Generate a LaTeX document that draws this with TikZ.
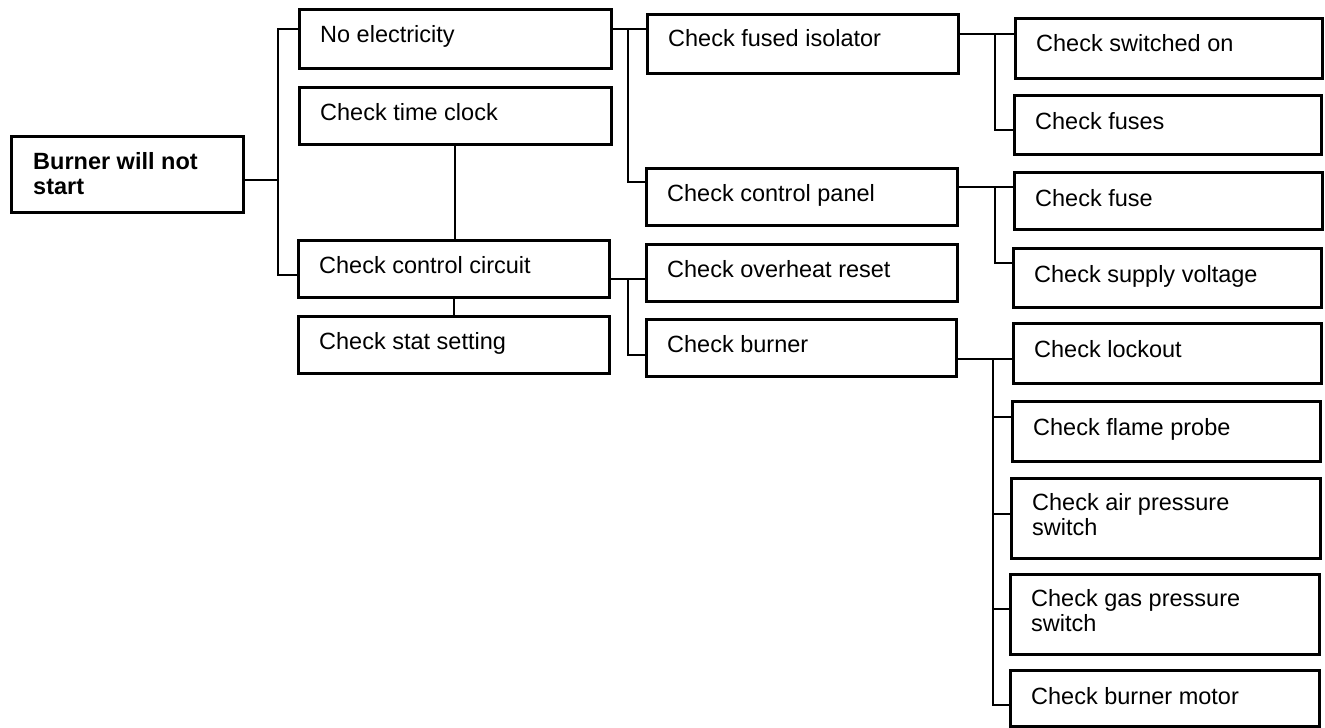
\documentclass[tikz,border=0pt]{standalone}
\usepackage{fontspec}
\setmainfont{Liberation Sans}
\usetikzlibrary{calc}
\tikzset{
  box/.style={draw=black, line width=2.8pt, anchor=north west, inner sep=0pt, rectangle},
  txt/.style={anchor=base west, inner sep=0pt, align=left, font=\fontsize{23.5}{25}\selectfont, text=black},
  txtml/.style={anchor=north west, inner sep=0pt, align=left, font=\fontsize{23.5}{25}\selectfont, text=black},
  conn/.style={draw=black, line width=2pt},
}
\begin{document}
\begin{tikzpicture}[x=1pt,y=-1pt]
\useasboundingbox (0,0) rectangle (1325,728);
% boxes
\node[box, minimum width=232pt, minimum height=76pt] (burner) at (10,135) {};
\node[box, minimum width=312pt, minimum height=59pt] (noelec) at (298,8) {};
\node[box, minimum width=312pt, minimum height=57pt] (timeclk) at (298,86) {};
\node[box, minimum width=311pt, minimum height=57pt] (ctrlc) at (297,239) {};
\node[box, minimum width=311pt, minimum height=57pt] (stat) at (297,315) {};
\node[box, minimum width=311pt, minimum height=59pt] (fused) at (646,13) {};
\node[box, minimum width=311pt, minimum height=57pt] (panel) at (645,167) {};
\node[box, minimum width=311pt, minimum height=57pt] (overheat) at (645,243) {};
\node[box, minimum width=310pt, minimum height=57pt] (cburner) at (645,318) {};
\node[box, minimum width=307pt, minimum height=60pt] (swon) at (1014,17) {};
\node[box, minimum width=307pt, minimum height=59pt] (fuses) at (1013,94) {};
\node[box, minimum width=308pt, minimum height=57pt] (fuse) at (1013,171) {};
\node[box, minimum width=308pt, minimum height=59pt] (supply) at (1012,247) {};
\node[box, minimum width=308pt, minimum height=60pt] (lockout) at (1012,322) {};
\node[box, minimum width=308pt, minimum height=60pt] (flame) at (1011,400) {};
\node[box, minimum width=309pt, minimum height=80pt] (air) at (1010,477) {};
\node[box, minimum width=309pt, minimum height=80pt] (gas) at (1009,573) {};
\node[box, minimum width=309pt, minimum height=56pt] (motor) at (1009,669) {};
% texts
\node[txtml, font=\fontsize{23.5}{25}\selectfont\bfseries] (burner-t) at ($(burner.north west)+(23,17)$) {Burner will not\\start};
\node[txt] (noelec-t) at ($(noelec.north west)+(22,34)$) {No electricity};
\node[txt] (timeclk-t) at ($(timeclk.north west)+(22,34)$) {Check time clock};
\node[txt] (ctrlc-t) at ($(ctrlc.north west)+(22,34)$) {Check control circuit};
\node[txt] (stat-t) at ($(stat.north west)+(22,34)$) {Check stat setting};
\node[txt] (fused-t) at ($(fused.north west)+(22,33)$) {Check fused isolator};
\node[txt] (panel-t) at ($(panel.north west)+(22,34)$) {Check control panel};
\node[txt] (overheat-t) at ($(overheat.north west)+(22,34)$) {Check overheat reset};
\node[txt] (cburner-t) at ($(cburner.north west)+(22,34)$) {Check burner};
\node[txt] (swon-t) at ($(swon.north west)+(22,34)$) {Check switched on};
\node[txt] (fuses-t) at ($(fuses.north west)+(22,35)$) {Check fuses};
\node[txt] (fuse-t) at ($(fuse.north west)+(22,35)$) {Check fuse};
\node[txt] (supply-t) at ($(supply.north west)+(22,35)$) {Check supply voltage};
\node[txt] (lockout-t) at ($(lockout.north west)+(22,35)$) {Check lockout};
\node[txt] (flame-t) at ($(flame.north west)+(22,35)$) {Check flame probe};
\node[txtml] (air-t) at ($(air.north west)+(22,16)$) {Check air pressure\\switch};
\node[txtml] (gas-t) at ($(gas.north west)+(22,16)$) {Check gas pressure\\switch};
\node[txt] (motor-t) at ($(motor.north west)+(22,35)$) {Check burner motor};
% connectors
\draw[conn] ($(burner.north east)+(0,45)$) -- ($(noelec.north west)+(-20,172)$);
\draw[conn] ($(noelec.north west)+(0,21)$) -- ($(noelec.north west)+(-20,21)$) |- ($(ctrlc.north west)+(0,36)$);
\draw[conn] (timeclk.south) -- (timeclk.south |- ctrlc.north);
\draw[conn] (ctrlc.south) -- (ctrlc.south |- stat.north);
\draw[conn] ($(noelec.north east)+(0,21)$) -- ($(fused.north west)+(0,16)$);
\draw[conn] ($(fused.north west)+(-18,16)$) |- ($(panel.north west)+(0,15)$);
\draw[conn] ($(ctrlc.north east)+(0,40)$) -- ($(overheat.north west)+(0,36)$);
\draw[conn] ($(overheat.north west)+(-17,36)$) |- ($(cburner.north west)+(0,37)$);
\draw[conn] ($(fused.north east)+(0,21)$) -- ($(swon.north west)+(0,17)$);
\draw[conn] ($(swon.north west)+(-19,17)$) |- ($(fuses.north west)+(0,36)$);
\draw[conn] ($(panel.north east)+(0,20)$) -- ($(fuse.north west)+(0,16)$);
\draw[conn] ($(fuse.north west)+(-18,16)$) |- ($(supply.north west)+(0,16)$);
\draw[conn] ($(cburner.north east)+(0,41)$) -- ($(lockout.north west)+(0,37)$);
\draw[conn] ($(lockout.north west)+(-19,37)$) |- ($(motor.north west)+(0,36)$);
\draw[conn] ($(lockout.north west)+(-19,95)$) -- ($(flame.north west)+(0,17)$);
\draw[conn] ($(lockout.north west)+(-19,192)$) -- ($(air.north west)+(0,37)$);
\draw[conn] ($(lockout.north west)+(-19,287)$) -- ($(gas.north west)+(0,36)$);
\end{tikzpicture}
\end{document}
